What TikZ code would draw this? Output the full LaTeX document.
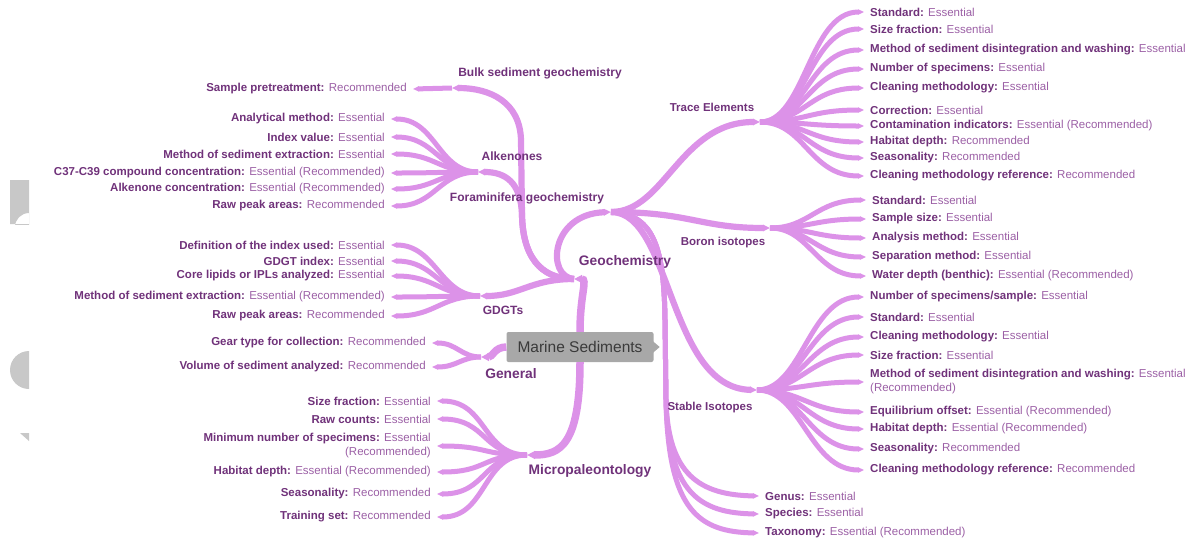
\documentclass[tikz,border=0pt]{standalone}
\usepackage{fontspec}
\setmainfont{Liberation Sans}
\usetikzlibrary{arrows.meta}
\definecolor{MindBranch}{RGB}{220,146,232}
\definecolor{MindDark}{RGB}{112,50,122}
\definecolor{MindLight}{RGB}{155,95,165}
\definecolor{MindBox}{RGB}{168,168,168}
\definecolor{MindBoxText}{RGB}{58,58,58}
\definecolor{MindFrag}{RGB}{200,200,200}
\newcommand{\kb}[1]{{\bfseries\color{MindDark}#1}}

\begin{document}
\begin{tikzpicture}[x=1pt,y=-1pt,
  trunk/.style={MindBranch,line width=7.5pt,-{Triangle[length=8pt,width=7.7pt]}},
  twig/.style={MindBranch,line width=6.2pt,-{Triangle[length=7pt,width=6.4pt]}},
  leaf/.style={MindBranch,line width=5pt,-{Triangle[length=6pt,width=5.2pt]}},
  leafr/.style={anchor=west,inner xsep=6pt,inner ysep=0pt,yshift=-1pt,align=left,text=MindLight,font=\fontsize{11.5}{14}\selectfont},
  leafl/.style={leafr,anchor=east,align=right},
  topic/.style={text=MindDark,font=\fontsize{#1}{#1}\selectfont\bfseries,inner sep=0pt},
  topic/.default=12]
    \useasboundingbox (0,0) rectangle (1192,542);
    % grey bits on the left edge
    \begin{scope}
       \clip (10,180) rectangle (29,224);
       \fill[MindFrag,even odd rule] (10,180) rectangle (29,224) (29,227) circle[radius=14];
    \end{scope}
    \begin{scope}
       \clip (0,340) rectangle (29,400);
       \fill[MindFrag] (29,370) circle[radius=19];
    \end{scope}
    \fill[MindFrag] (20,433) -- (29,433) -- (29,441) -- cycle;
    % root
    \node[fill=MindBox,text=MindBoxText,rounded corners=2pt,minimum width=147pt,minimum height=30pt,inner sep=0pt,font=\fontsize{15.5}{16}\selectfont] (ms) at (580,347) {Marine Sediments};
    \fill[MindBox] (ms.east) ++(-1,-6) -- ++(7,6) -- ++(-7,6) -- cycle;
    % junctions
    \coordinate (jgeo) at (574,279);
    \coordinate (jbulk) at (452,88);
    \coordinate (jalk) at (478,172);
    \coordinate (jgdgt) at (480,296);
    \coordinate (jfor) at (611,212);
    \coordinate (jte) at (760,122);
    \coordinate (jbo) at (770,228);
    \coordinate (jsi) at (757,390);
    \coordinate (jgen) at (481,357);
    \coordinate (jmic) at (527,455);
    % main branches
    \draw[trunk] (ms.north) .. controls +(0,-38) and +(14,0) .. (jgeo);
    \draw[trunk] (ms.west) .. controls +(-12,0) and +(12,0) .. (jgen);
    \draw[trunk] (ms.south) .. controls (580,445) and (560,455) .. (jmic);
    \draw[twig] (jgeo) .. controls (548,279) and (523,265) .. (522,215) -- (521,140) .. controls (520,102) and (490,88) .. (jbulk);
    \draw[twig] (jgeo) .. controls (548,279) and (523,265) .. (522,215) .. controls (521,182) and (505,172) .. (jalk);
    \draw[twig] (jgeo) .. controls (530,279) and (520,296) .. (jgdgt);
    \draw[twig] (jgeo) .. controls (546,277) and (550,214) .. (jfor);
    \draw[twig] (jfor) .. controls (665,212) and (680,122) .. (jte);
    \draw[twig] (jfor) .. controls (690,212) and (700,228) .. (jbo);
    \draw[twig] (jfor) .. controls (672,212) and (668,388) .. (jsi);
    % trace elements
    \foreach \nm/\yy/\lbl/\val in {1/11/Standard:/Essential, 2/28/Size fraction:/Essential,
       3/49/Method of sediment disintegration and washing:/Essential, 4/68/Number of specimens:/Essential,
       5/87/Cleaning methodology:/Essential, 6/109/Correction:/Essential,
       7/125/Contamination indicators:/Essential (Recommended), 8/141/Habitat depth:/Recommended,
       9/157/Seasonality:/Recommended, 10/175/Cleaning methodology reference:/Recommended} {
       \node[leafr] (te\nm) at (864,\yy) {\kb{\lbl} \val};
       \draw[leaf] (jte) .. controls +(45,0) and +(-55,0) .. (te\nm.west);
    }
    % boron isotopes
    \foreach \nm/\yy/\lbl/\val in {1/199/Standard:/Essential, 2/218/Sample size:/Essential,
       3/237/Analysis method:/Essential, 4/256/Separation method:/Essential,
       5/275/Water depth (benthic):/Essential (Recommended)} {
       \node[leafr] (bo\nm) at (866,\yy) {\kb{\lbl} \val};
       \draw[leaf] (jbo) .. controls +(40,0) and +(-50,0) .. (bo\nm.west);
    }
    % stable isotopes
    \node[leafr] (si1) at (864,296) {\kb{Number of specimens/sample:} Essential};
    \node[leafr] (si5) at (864,381) {\kb{Method of sediment disintegration and washing:} Essential\\(Recommended)};
    \foreach \nm/\yy/\lbl/\val in {2/316/Standard:/Essential, 3/336/Cleaning methodology:/Essential,
       4/354/Size fraction:/Essential, 6/411/Equilibrium offset:/Essential (Recommended),
       7/428/Habitat depth:/Essential (Recommended), 8/448/Seasonality:/Recommended,
       9/469/Cleaning methodology reference:/Recommended} {
       \node[leafr] (si\nm) at (864,\yy) {\kb{\lbl} \val};
    }
    \foreach \nm in {1,...,9} {
       \draw[leaf] (jsi) .. controls +(45,0) and +(-55,0) .. (si\nm.west);
    }
    % taxonomy leaves
    \foreach \nm/\yy/\lbl/\val in {gen/495/Genus:/Essential, spe/513/Species:/Essential,
       tax/532/Taxonomy:/Essential (Recommended)} {
       \node[leafr] (\nm) at (759,\yy) {\kb{\lbl} \val};
       \draw[leaf] (jfor) .. controls (655,214) and (664,250) .. (665,320) -- (666,400) .. controls (668,{\yy-20}) and (700,\yy) .. (\nm.west);
    }
    % bulk sediment
    \node[leafl] (bu1) at (413,88) {\kb{Sample pretreatment:} Recommended};
    \draw[leaf] (jbulk) -- (bu1.east);
    % alkenones
    \foreach \nm/\yy/\lbl/\val in {1/118/Analytical method:/Essential, 2/136/Index value:/Essential,
       3/153/Method of sediment extraction:/Essential,
       4/172/C37-C39 compound concentration:/Essential (Recommended),
       5/188/Alkenone concentration:/Essential (Recommended), 6/205/Raw peak areas:/Recommended} {
       \node[leafl] (al\nm) at (391,\yy) {\kb{\lbl} \val};
       \draw[leaf] (jalk) .. controls +(-40,0) and +(45,0) .. (al\nm.east);
    }
    % gdgts
    \foreach \nm/\yy/\lbl/\val in {1/244/Definition of the index used:/Essential, 2/260/GDGT index:/Essential,
       3/275/Core lipids or IPLs analyzed:/Essential,
       4/296/Method of sediment extraction:/Essential (Recommended), 5/315/Raw peak areas:/Recommended} {
       \node[leafl] (gd\nm) at (391,\yy) {\kb{\lbl} \val};
       \draw[leaf] (jgdgt) .. controls +(-40,0) and +(45,0) .. (gd\nm.east);
    }
    % general
    \foreach \nm/\yy/\lbl/\val in {1/342/Gear type for collection:/Recommended,
       2/366/Volume of sediment analyzed:/Recommended} {
       \node[leafl] (ge\nm) at (432,\yy) {\kb{\lbl} \val};
       \draw[leaf] (jgen) .. controls +(-20,0) and +(25,0) .. (ge\nm.east);
    }
    % micropaleontology
    \node[leafl] (mi3) at (437,445) {\kb{Minimum number of specimens:} Essential\\(Recommended)};
    \foreach \nm/\yy/\lbl/\val in {1/400/Size fraction:/Essential, 2/418/Raw counts:/Essential,
       4/471/Habitat depth:/Essential (Recommended), 5/493/Seasonality:/Recommended,
       6/516/Training set:/Recommended} {
       \node[leafl] (mi\nm) at (437,\yy) {\kb{\lbl} \val};
    }
    \foreach \nm in {1,...,6} {
       \draw[leaf] (jmic) .. controls +(-45,0) and +(50,0) .. (mi\nm.east);
    }
    % branch labels
    \node[topic=13.8] (geo) at (625,262) {Geochemistry};
    \node[topic=13.8] (gen) at (511,374) {General};
    \node[topic=13.8] (mic) at (590,471) {Micropaleontology};
    \node[topic] (bulk) at (540,73) {Bulk sediment geochemistry};
    \node[topic] (alk) at (512,156) {Alkenones};
    \node[topic] (for) at (527,198) {Foraminifera geochemistry};
    \node[topic] (gdgt) at (503,310) {GDGTs};
    \node[topic=11.5] (te) at (712,107) {Trace Elements};
    \node[topic=11.5] (bo) at (723,243) {Boron isotopes};
    \node[topic=11.5] (si) at (710,408) {Stable Isotopes};
\end{tikzpicture}
\end{document}
